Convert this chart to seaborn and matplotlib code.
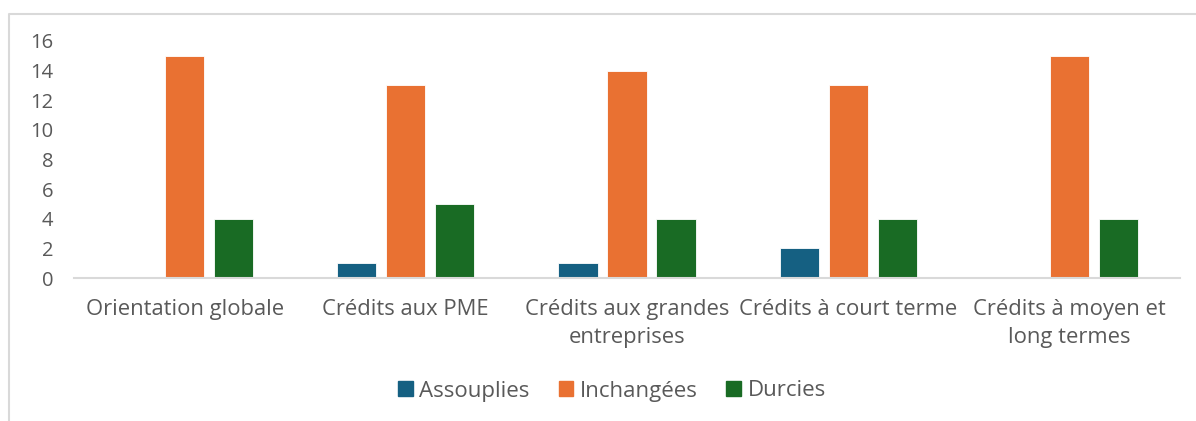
import numpy as np
import pandas as pd
import matplotlib.pyplot as plt
import seaborn as sns
from matplotlib.lines import Line2D

categories = ['Orientation globale', 'Crédits aux PME', 'Crédits aux grandes\nentreprises',
              'Crédits à court terme', 'Crédits à moyen et\nlong termes']
series = ['Assouplies', 'Inchangées', 'Durcies']
assouplies = [0, 1, 1, 2, 0]
inchangees = [15, 13, 14, 13, 15]
durcies = [4, 5, 4, 4, 4]
colors = ['#156082', '#E97132', '#196B24']
yticks = [0, 2, 4, 6, 8, 10, 12, 14, 16]

df = pd.DataFrame({
    'cat': categories * 3,
    'serie': [series[0]] * 5 + [series[1]] * 5 + [series[2]] * 5,
    'val': assouplies + inchangees + durcies,
})

sns.set_style('white')
plt.rcParams['font.family'] = ['Open Sans', 'DejaVu Sans']
txt = '#595959'

fig = plt.figure(figsize=(11.96, 4.21), dpi=100)
ax = fig.add_axes([74 / 1196, 1 - 278 / 421, (1180 - 74) / 1196, (278 - 41) / 421])
sns.barplot(data=df, x='cat', y='val', hue='serie', palette=colors, order=categories,
            hue_order=series, width=0.665, gap=0.2, edgecolor='white', linewidth=0.6,
            saturation=1, ax=ax, legend=False)

ax.set_ylim(0, 16)
ax.set_xlim(-0.5, 4.5)
ax.set_yticks(yticks)
ax.set_xlabel('')
ax.set_ylabel('')
for s in ['top', 'right', 'left']:
    ax.spines[s].set_visible(False)
ax.spines['bottom'].set_color('#d9d9d9')
ax.spines['bottom'].set_linewidth(1.5)
ax.tick_params(axis='both', length=0, colors=txt)
ax.tick_params(axis='y', labelsize=14.5, pad=15)
ax.tick_params(axis='x', labelsize=15.8, pad=15)
for lab in ax.get_xticklabels():
    lab.set_linespacing(1.45)

# chart frame (cropped)
fig.add_artist(Line2D([9 / 1196, 9 / 1196, 1.0], [0.0, 1 - 14 / 421, 1 - 14 / 421],
                      transform=fig.transFigure, color='#d9d9d9', linewidth=1.5))

handles = [plt.Rectangle((0, 0), 1, 1, color=c) for c in colors]
fig.legend(handles, series, loc='center', bbox_to_anchor=(612 / 1196, 1 - 391 / 421),
           ncol=3, frameon=False, fontsize=16, labelcolor=txt, handlelength=0.65,
           handleheight=0.65, handletextpad=0.3, columnspacing=1.3)

fig.savefig('out.png', dpi=100)
